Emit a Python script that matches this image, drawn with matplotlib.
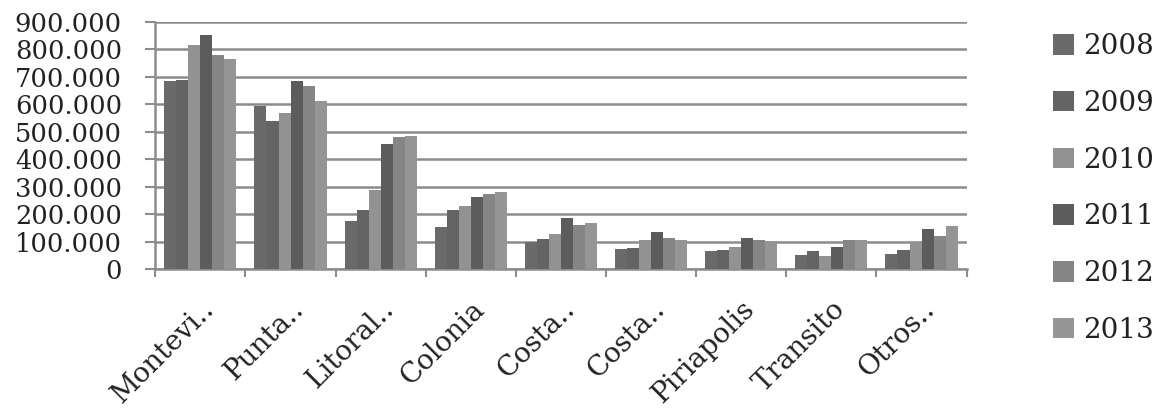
import numpy as np
from matplotlib import pyplot as plt

categories = ["Montevi..", "Punta..", "Litoral..", "Colonia", "Costa..",
              "Costa..", "Piriapolis", "Transito", "Otros.."]
years = ["2008", "2009", "2010", "2011", "2012", "2013"]

v2008 = [686000, 594000, 176000, 155000, 100000, 74000, 65000, 51000, 55000]
v2009 = [688000, 540000, 216000, 216000, 109000, 76000, 70000, 67000, 69000]
v2010 = [815000, 567000, 288000, 230000, 129000, 108000, 81000, 47000, 97000]
v2011 = [852000, 686000, 454000, 264000, 187000, 136000, 114000, 80000, 147000]
v2012 = [779000, 667000, 482000, 274000, 161000, 113000, 108000, 105000, 122000]
v2013 = [765000, 610000, 486000, 281000, 167000, 107000, 103000, 108000, 156000]

colors = ["#6a6a6a", "#646464", "#929292", "#5c5c5c", "#858585", "#959595"]
series = [v2008, v2009, v2010, v2011, v2012, v2013]

plt.rcParams['font.family'] = 'DejaVu Serif'

fig = plt.figure(figsize=(11.59, 4.17), dpi=100)
ax = fig.add_axes([0.134, 0.354, 0.700, 0.594])

x = np.arange(len(categories))
w = 0.8 / len(years)
for i, (vals, c) in enumerate(zip(series, colors)):
    ax.bar(x - 0.4 + w * (i + 0.5), vals, w, color=c, label=years[i], zorder=3)

ax.set_xlim(-0.5, len(categories) - 0.5)
ax.set_ylim(0, 900000)
ax.set_yticks(np.arange(0, 900001, 100000))
ax.set_yticklabels(["0"] + ["%d.000" % (v // 1000) for v in range(100000, 900001, 100000)])
ax.yaxis.grid(True, color="#8c8c8c", linewidth=1.8, zorder=0)

# category boundaries get the ticks, centres get the labels
ax.set_xticks(np.arange(len(categories) + 1) - 0.5, minor=False)
ax.set_xticklabels([])
ax.set_xticks(x, minor=True)
ax.set_xticklabels(categories, minor=True, rotation=45, ha="right",
                   rotation_mode="anchor", fontsize=20, color="#222222")
ax.tick_params(axis="x", which="minor", length=0, pad=19)
ax.tick_params(axis="x", which="major", length=6, width=1.5, color="#8c8c8c")
ax.tick_params(axis="y", length=7, width=1.5, color="#8c8c8c",
               labelsize=18.5, labelcolor="#222222", pad=17)

for s in ["top", "right"]:
    ax.spines[s].set_visible(False)
for s in ["left", "bottom"]:
    ax.spines[s].set_color("#8c8c8c")
    ax.spines[s].set_linewidth(1.8)

fig.legend(loc="center left", bbox_to_anchor=(0.887, 0.548), frameon=False,
           fontsize=20, labelspacing=1.07, handlelength=0.75, handleheight=0.75,
           handletextpad=0.35, labelcolor="#222222")

fig.savefig("out.png", dpi=100)
